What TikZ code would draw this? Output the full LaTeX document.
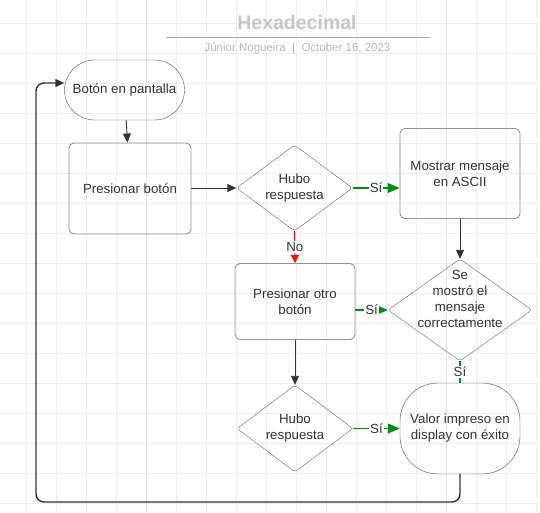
\documentclass[tikz,border=0pt]{standalone}
\usepackage{fontspec}
\setmainfont{Liberation Sans}
\usetikzlibrary{arrows.meta,shapes.geometric}
\definecolor{ink}{HTML}{333333}
\definecolor{yesgreen}{HTML}{008A0E}
\definecolor{nored}{HTML}{E81313}
\tikzset{
    gridline/.style={draw=gray!13, line width=0.8pt},
    txt/.style={font=\fontsize{13.3}{16}\selectfont, text=ink, align=center},
    startbox/.style={txt, draw=ink!85, rounded corners=30pt, minimum width=120pt, minimum height=60pt, inner sep=0pt},
    endbox/.style={txt, draw=ink!85, rounded corners=38pt, minimum width=120pt, minimum height=91pt, inner sep=0pt},
    procbox/.style={txt, draw=gray!85, rounded corners=5pt, line width=0.9pt, minimum width=120pt, inner sep=0pt},
    decision/.style={diamond, draw=ink!75, rounded corners=3pt, inner sep=0pt},
    flow/.style={draw=ink, line width=0.9pt, -{Triangle[length=9pt,width=8pt]}},
    yes/.style={draw=yesgreen, line width=1.2pt},
    no/.style={draw=nored, line width=1.2pt},
    lbl/.style={txt, fill=white, inner sep=1pt}
}
\begin{document}
\begin{tikzpicture}[x=1pt,y=-1pt]
    \useasboundingbox (0,0) rectangle (540,512);
    \fill[white] (0,0) rectangle (540,512);
    % grid
    \foreach \x in {26,56,...,536}
        \draw[gridline] (\x,0) -- (\x,512);
    \foreach \y in {23.3,53.3,...,503.3}
        \draw[gridline] (0,\y) -- (540,\y);
    \draw[gridline, draw=gray!22] (146,0) -- (146,512);
    \draw[gridline, draw=gray!22] (446,0) -- (446,512);

    % header
    \node[font=\bfseries\fontsize{19.5}{22}\selectfont, text=gray!45] (title) at (297,23) {Hexadecimal};
    \draw[gray!65, line width=0.9pt] (166,37.5) -- (430,37.5);
    \node[font=\fontsize{11.5}{13}\selectfont, text=gray!55] (byline) at (297.5,48) {Júnior Nogueira \;|\; October 16, 2023};

    % shapes
    \node[startbox] (start) at (124.5,90) {Botón en pantalla};
    \node[procbox, minimum width=122pt, minimum height=91pt] (press) at (130,188.5) {Presionar botón};
    \node[decision, minimum width=116pt, minimum height=86pt] (reply) at (294.5,188) {};
    \node[txt] (reply text) at (reply) {Hubo\\respuesta};
    \node[procbox, minimum height=90pt] (ascii) at (460,173.5) {Mostrar mensaje\\en ASCII};
    \node[procbox, minimum height=76pt] (again) at (295,301.5) {Presionar otro\\botón};
    \node[decision, minimum width=144pt, minimum height=102pt] (shown) at (460,310) {};
    \node[txt] (shown text) at ([yshift=11pt]shown) {Se\\mostró el\\mensaje\\correctamente};
    \node[decision, minimum width=116pt, minimum height=87pt] (reply2) at (295,428.5) {};
    \node[txt] (reply2 text) at (reply2) {Hubo\\respuesta};
    \node[endbox] (done) at (460,428.5) {Valor impreso en\\display con éxito};

    % connectors
    \draw[flow] (start) -- (press);
    \draw[flow] (press.east |- reply.west) -- (reply.west);
    \draw[yes, -{Triangle[length=12pt,width=10pt]}, yesgreen] (reply.east) -- node[lbl] {Sí} (ascii.west |- reply.east);
    \draw[no, -{Triangle[length=8pt,width=8pt]}, nored] (reply.south) -- node[lbl] {No} (again.north);
    \draw[flow] (ascii.south) -- (shown.north);
    \draw[yes, -{Triangle[length=12pt,width=10pt]}, yesgreen] (again.east |- shown.west) -- node[lbl] {Sí} (shown.west);
    \draw[yes] (shown.south) -- node[lbl] {Sí} (done.north);
    \draw[flow] (again.south) -- (reply2.north);
    \draw[yes, -{Triangle[length=12pt,width=10pt]}, yesgreen] (reply2.east) -- node[lbl] {Sí} (done.west);
    \coordinate (loopcorner) at (36,502);
    \draw[flow, line width=1.4pt, rounded corners=8pt] (done.south) |- (loopcorner) |- ([yshift=7pt]start.west);
\end{tikzpicture}
\end{document}
